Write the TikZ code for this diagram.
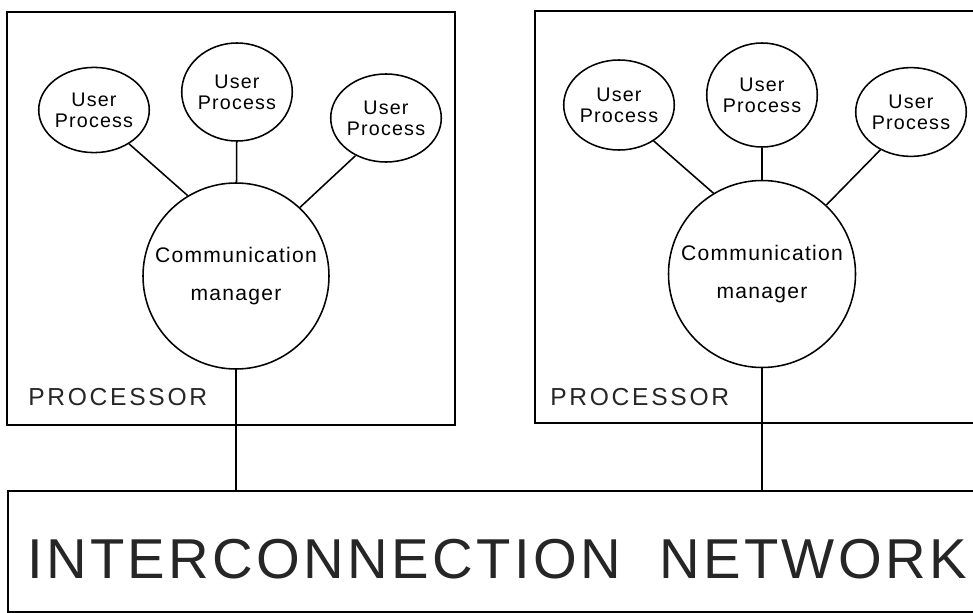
\documentclass[tikz,border=0pt]{standalone}
\usepackage{fontspec}
\setmainfont{Liberation Sans}
\newfontfamily\netfont{Liberation Sans}[LetterSpace=6]
\newfontfamily\labelfont{Liberation Sans}[LetterSpace=11]
\newfontfamily\procfont{Liberation Sans}[LetterSpace=6]
\usetikzlibrary{shapes.geometric}

\begin{document}
\begin{tikzpicture}[x=0.25mm, y=-0.25mm,
    procbox/.style={draw, line width=0.75pt, inner sep=0pt},
    userproc/.style={draw, ellipse, line width=1.1pt, inner sep=0pt, minimum width=24.5mm, align=center, font=\procfont\fontsize{14}{15}\selectfont},
    commgr/.style={draw, circle, line width=1.1pt, inner sep=0pt, minimum size=46.5mm, align=center, font=\procfont\fontsize{15}{27}\selectfont},
    proclabel/.style={anchor=base west, inner sep=0pt, text=black!85, font=\labelfont\fontsize{17.5}{20}\selectfont},
    link/.style={line width=1.1pt}]
    \clip (0,0) rectangle (973,612);
    % left processor
    \node[procbox, minimum width=112mm, minimum height=103.25mm] (procA) at (231,218.5) {};
    \node[userproc, minimum height=21.3mm] (upA1) at (94,110) {User\\Process};
    \node[userproc, minimum height=24.5mm] (upA2) at (237,92) {User\\Process};
    \node[userproc, minimum height=22mm] (upA3) at (386,118) {User\\Process};
    \node[commgr] (cmA) at (236,276) {Communication\\manager};
    \node[proclabel] (labA) at (28,405) {PROCESSOR};
    % right processor
    \node[procbox, minimum width=116.25mm, minimum height=103mm] (procB) at (767.5,217) {};
    \node[userproc, minimum width=25mm, minimum height=22.5mm] (upB1) at (619,105) {User\\Process};
    \node[userproc, minimum width=25.2mm, minimum height=26mm] (upB2) at (762,95) {User\\Process};
    \node[userproc, minimum width=25.2mm, minimum height=22.2mm] (upB3) at (911,112) {User\\Process};
    \node[commgr, minimum size=46.75mm] (cmB) at (762,274) {Communication\\manager};
    \node[proclabel] (labB) at (550,405) {PROCESSOR};
    % network
    \node[procbox, minimum width=248mm, minimum height=30.25mm] (net) at (504,551.5) {};
    \node[anchor=base west, inner sep=0pt, text=black!85, font=\netfont\fontsize{40}{48}\selectfont] (netlabel) at (27,578) {INTERCONNECTION\ \ NETWORK};
    \draw[link] (upA1.-44) -- (cmA.121);
    \draw[link] (upA2) -- (cmA);
    \draw[link] (upA3.-129) -- (cmA.47);
    \draw[link] (upB1.-46) -- (cmB.121);
    \draw[link] (upB2) -- (cmB);
    \draw[link] (upB3.-129) -- (cmB.47);
    \draw[link] (cmA.south) -- (cmA.south |- net.north);
    \draw[link] (cmB.south) -- (cmB.south |- net.north);
\end{tikzpicture}
\end{document}
